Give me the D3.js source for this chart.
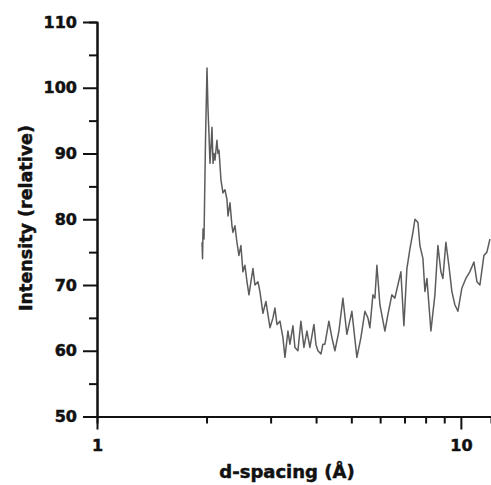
<!DOCTYPE html>
<html>
<head>
<meta charset="utf-8">
<script src="https://cdn.jsdelivr.net/npm/d3@7.9.0/dist/d3.min.js"></script>
<style>
  html, body { margin: 0; padding: 0; background: #fff; }
  svg text { font-family: "DejaVu Sans", sans-serif; font-weight: bold; fill: #111; stroke: #111; stroke-width: 0.5px; }
</style>
</head>
<body>
<script>
// d-spacing (Å) and relative intensity
const dSpacing = [
  1.944, 1.950, 1.956, 1.968, 1.987, 2.006, 2.018, 2.031, 2.044, 2.057,
  2.070, 2.084, 2.097, 2.110, 2.123, 2.136, 2.150, 2.164, 2.191, 2.219,
  2.247, 2.276, 2.291, 2.320, 2.349, 2.364, 2.394, 2.424, 2.455, 2.486,
  2.518, 2.550, 2.583, 2.616, 2.649, 2.683, 2.717, 2.769, 2.804, 2.858,
  2.912, 2.950, 2.988, 3.045, 3.083, 3.123, 3.183, 3.243, 3.285, 3.348,
  3.390, 3.455, 3.499, 3.566, 3.634, 3.704, 3.775, 3.847, 3.946, 3.996,
  4.047, 4.125, 4.177, 4.230, 4.338, 4.421, 4.506, 4.622, 4.740, 4.861,
  5.017, 5.179, 5.312, 5.448, 5.553, 5.623, 5.731, 5.804, 5.878, 5.991,
  6.183, 6.301, 6.461, 6.585, 6.712, 6.841, 6.973, 7.107, 7.244, 7.383,
  7.478, 7.621, 7.717, 7.866, 7.965, 8.067, 8.273, 8.484, 8.647, 8.813,
  8.924, 9.095, 9.268, 9.447, 9.627, 9.812, 10.06, 10.32, 10.58, 10.86,
  11.07, 11.28, 11.57, 11.79, 12.02
];
const intensity = [
  76.5, 74, 78.5, 77, 92, 103, 97, 93, 88.5, 91,
  94, 88.5, 90, 89, 90.5, 92, 90, 90.5, 86, 84,
  84.5, 83, 80.5, 82.5, 79, 78, 79, 76.5, 74.5, 76,
  72, 73, 70.5, 68.5, 70.5, 72.5, 70, 70.5, 69, 65.7,
  67.5, 65.5, 63.5, 65, 66.5, 64, 64.5, 62, 59, 63,
  61, 63.8, 60.5, 60, 64.5, 60.5, 63, 60.5, 64, 61,
  60, 59.5, 61, 61, 64.5, 62, 60, 63, 68, 62.5,
  66, 59, 62, 66, 65, 63.5, 68.5, 68, 73, 67,
  63, 65.5, 68.5, 68, 70, 72, 63.8, 72.5, 75.5, 78,
  80, 79.5, 76, 74, 69, 71, 63, 68.5, 76, 72,
  71, 76.5, 73, 69, 67, 66, 69.5, 71, 72, 73.5,
  70.5, 70, 74.5, 75, 77
];

const xMajor = [1, 10];
const xMinor = [2, 3, 4, 5, 6, 7, 8, 9];
const yMajor = [50, 60, 70, 80, 90, 100, 110];
const yMinor = [55, 65, 75, 85, 95, 105];

const width = 491, height = 485;
const svg = d3.select("body").append("svg")
  .attr("width", width)
  .attr("height", height);

const x = d3.scaleLog().domain([1, 12.1]).range([97, 491]);
const y = d3.scaleLinear().domain([50, 110]).range([416.5, 22]);

// minor ticks first, majors drawn on top
svg.append("g")
  .attr("class", "axis")
  .attr("transform", `translate(0,${y(50)})`)
  .call(d3.axisBottom(x).tickValues(xMinor).tickSize(7).tickFormat(""));

svg.append("g")
  .attr("class", "axis")
  .attr("transform", `translate(0,${y(50)})`)
  .call(d3.axisBottom(x).tickValues(xMajor).tickSizeInner(13).tickSizeOuter(0)
    .tickPadding(10).tickFormat(d3.format("d")));

svg.append("g")
  .attr("class", "axis")
  .attr("transform", `translate(${x(1)},0)`)
  .call(d3.axisLeft(y).tickValues(yMinor).tickSize(8).tickFormat(""));

svg.append("g")
  .attr("class", "axis")
  .attr("transform", `translate(${x(1)},0)`)
  .call(d3.axisLeft(y).tickValues(yMajor).tickSizeInner(14).tickSizeOuter(0)
    .tickPadding(6).tickFormat(d3.format("d")));

svg.selectAll(".axis path, .axis line")
  .attr("stroke", "#111")
  .attr("stroke-width", 2);
svg.selectAll(".axis text")
  .style("font-size", "16px")
  .attr("fill", "#111");

// the trace
const pts = dSpacing.map((d, i) => [d, intensity[i]]);
svg.append("path")
  .datum(pts)
  .attr("fill", "none")
  .attr("stroke", "#5c5c5c")
  .attr("stroke-width", 1.5)
  .attr("stroke-linejoin", "round")
  .attr("d", d3.line().x(d => x(d[0])).y(d => y(d[1])));

// axis titles
svg.append("text")
  .attr("x", 287)
  .attr("y", 478)
  .attr("text-anchor", "middle")
  .style("font-size", "18px")
  .text("d-spacing (Å)");

svg.append("text")
  .attr("transform", "translate(32,218) rotate(-90)")
  .attr("text-anchor", "middle")
  .style("font-size", "17.5px")
  .text("Intensity (relative)");
</script>
</body>
</html>
